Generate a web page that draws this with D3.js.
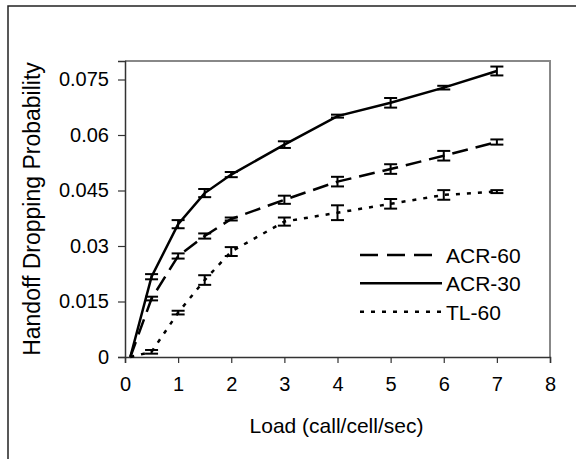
<!DOCTYPE html>
<html lang="en">
<head>
  <meta charset="utf-8">
  <title>Handoff Dropping Probability</title>
  <script src="https://cdn.jsdelivr.net/npm/d3@7"></script>
  <style>
    body { margin: 0; background: #fff; }
    svg text { font-family: "Liberation Sans", Arial, sans-serif; fill: #000; }
  </style>
</head>
<body>
  <div id="chart"></div>
  <script>
    // data
    var loads = [0.1, 0.5, 1, 1.5, 2, 3, 4, 5, 6, 7];
    var acr60 = [0, 0.0158, 0.0273, 0.0327, 0.0373, 0.0425, 0.0474, 0.0508, 0.0544, 0.0581];
    var acr60Err = [0, 0.0005, 0.0007, 0.0007, 0.0004, 0.0011, 0.0013, 0.0013, 0.0013, 0.0007];
    var acr30 = [0, 0.0217, 0.0359, 0.0443, 0.0493, 0.0574, 0.0651, 0.0687, 0.0728, 0.0773];
    var acr30Err = [0, 0.0007, 0.0011, 0.0011, 0.0007, 0.0009, 0.0004, 0.0013, 0.0005, 0.0012];
    var tl60 = [0, 0.0014, 0.012, 0.0208, 0.0285, 0.0366, 0.039, 0.0414, 0.0438, 0.0447];
    var tl60Err = [0, 0.0005, 0.0005, 0.0013, 0.0012, 0.0011, 0.002, 0.0013, 0.0013, 0.0004];
    var xTicks = [0, 1, 2, 3, 4, 5, 6, 7, 8];
    var yTicks = [0, 0.015, 0.03, 0.045, 0.06, 0.075];

    var series = [
      { name: "ACR-60", values: acr60, err: acr60Err, dash: "16,8", legendDash: "18,9" },
      { name: "ACR-30", values: acr30, err: acr30Err, dash: null, legendDash: null },
      { name: "TL-60", values: tl60, err: tl60Err, dash: "4,7", legendDash: "4,7" }
    ];

    var W = 576, H = 459;
    var margin = { top: 61, right: 26, bottom: 102, left: 125 };
    var width = W - margin.left - margin.right,
      height = H - margin.top - margin.bottom;

    var svg = d3.select("#chart").append("svg")
      .attr("width", W)
      .attr("height", H);

    // outer frame
    svg.append("rect")
      .attr("x", 8).attr("y", 6)
      .attr("width", 620).attr("height", 520)
      .attr("fill", "none")
      .attr("stroke", "#222")
      .attr("stroke-width", 1.5);

    var g = svg.append("g")
      .attr("transform", "translate(" + margin.left + "," + margin.top + ")");

    var x = d3.scaleLinear().domain([0, 8]).range([0, width]);
    var y = d3.scaleLinear().domain([0, 0.08]).range([height, 0]);

    // grey top/right frame of plot area
    g.append("path")
      .attr("d", "M0,0H" + width + "V" + height)
      .attr("fill", "none")
      .attr("stroke", "#888")
      .attr("stroke-width", 2);

    var xAxis = g.append("g")
      .attr("transform", "translate(0," + height + ")")
      .call(d3.axisBottom(x).tickValues(xTicks).tickSize(6).tickPadding(14).tickFormat(d3.format("d")));

    var yAxis = g.append("g")
      .call(d3.axisLeft(y).tickValues(yTicks).tickSize(7).tickPadding(9).tickFormat(function (d) { return d === 0 ? "0" : d3.format("")(+d.toFixed(3)); }));

    [xAxis, yAxis].forEach(function (a) {
      a.select(".domain").attr("stroke", "#333").attr("stroke-width", 1.5);
      a.selectAll(".tick line").attr("stroke", "#333").attr("stroke-width", 1.2);
      a.selectAll("text").attr("font-size", 20).attr("font-family", "Liberation Sans, Arial, sans-serif");
    });

    var line = d3.line()
      .x(function (d, i) { return x(loads[i]); })
      .y(function (d) { return y(d); });

    series.forEach(function (s) {
      g.append("path")
        .datum(s.values)
        .attr("d", line)
        .attr("fill", "none")
        .attr("stroke", "#000")
        .attr("stroke-width", 2.5)
        .attr("stroke-dasharray", s.dash);

      // error bars
      var bars = g.append("g").selectAll("g")
        .data(s.values.map(function (v, i) { return { x: loads[i], v: v, e: s.err[i] }; }).filter(function (d) { return d.e > 0; }))
        .enter().append("g");

      bars.append("line")
        .attr("x1", function (d) { return x(d.x); })
        .attr("x2", function (d) { return x(d.x); })
        .attr("y1", function (d) { return y(d.v - d.e); })
        .attr("y2", function (d) { return y(d.v + d.e); })
        .attr("stroke", "#000").attr("stroke-width", 2);

      [-1, 1].forEach(function (sgn) {
        bars.append("line")
          .attr("x1", function (d) { return x(d.x) - 6.5; })
          .attr("x2", function (d) { return x(d.x) + 6.5; })
          .attr("y1", function (d) { return y(d.v + sgn * d.e); })
          .attr("y2", function (d) { return y(d.v + sgn * d.e); })
          .attr("stroke", "#000").attr("stroke-width", 2);
      });
    });

    // axis titles
    svg.append("text")
      .attr("x", margin.left + width / 2 - 1)
      .attr("y", 433)
      .attr("text-anchor", "middle")
      .attr("font-size", 21)
      .text("Load (call/cell/sec)");

    svg.append("text")
      .attr("transform", "translate(40," + (margin.top + height / 2) + ") rotate(-90)")
      .attr("text-anchor", "middle")
      .attr("font-size", 23)
      .text("Handoff Dropping Probability");

    // legend
    var legend = svg.append("g");
    var legendY = [255, 283.3, 311.7];
    var legendEnd = [433, 442, 442];
    series.forEach(function (s, i) {
      legend.append("line")
        .attr("x1", 360).attr("x2", legendEnd[i])
        .attr("y1", legendY[i]).attr("y2", legendY[i])
        .attr("stroke", "#000")
        .attr("stroke-width", 2.5)
        .attr("stroke-dasharray", s.legendDash);
      legend.append("text")
        .attr("x", 446)
        .attr("y", legendY[i] + 8)
        .attr("font-size", 21)
        .text(s.name);
    });
  </script>
</body>
</html>
